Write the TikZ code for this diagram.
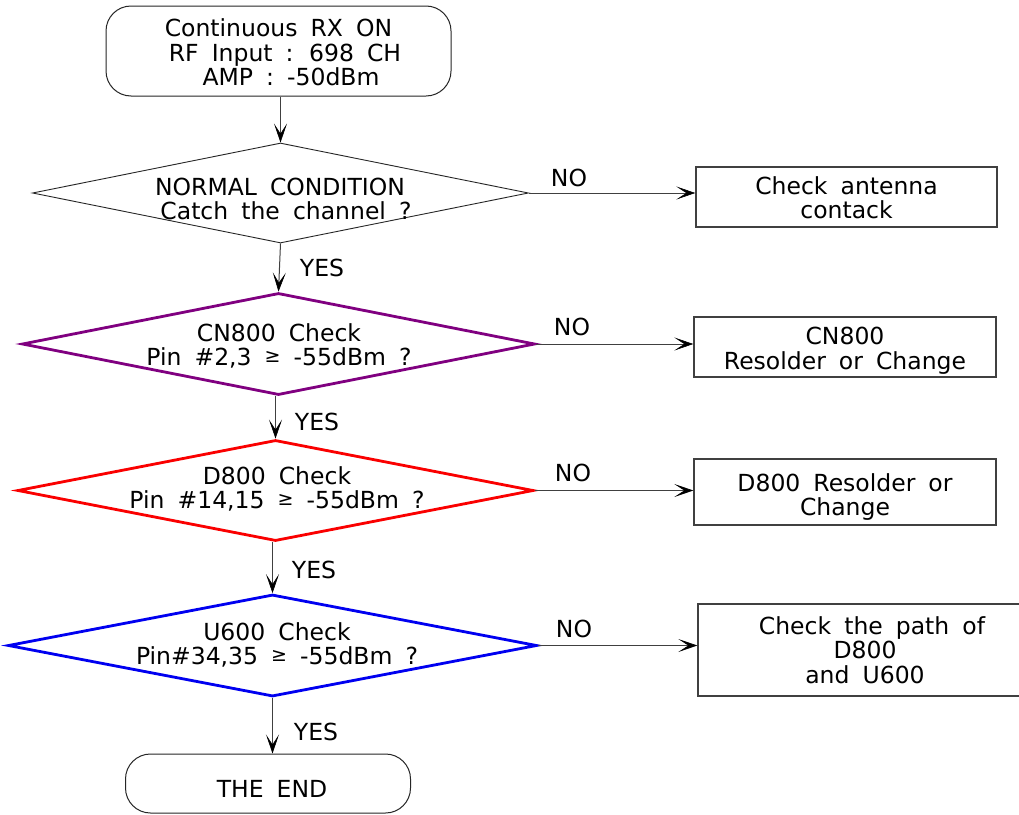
\documentclass[tikz,border=0pt]{standalone}
\usepackage{fontspec}
\setmainfont{DejaVu Sans}[WordSpace=1.75]
\usetikzlibrary{shapes.geometric,arrows.meta}
\newcommand{\gesym}{\raisebox{3.5pt}{\fontsize{19}{19}\selectfont ≥}}
\definecolor{dpurple}{RGB}{128,0,128}
\definecolor{dred}{RGB}{250,0,0}
\definecolor{dblue}{RGB}{0,0,240}
\tikzset{
  every node/.style={font=\fontsize{23.5}{24.5}\selectfont, inner sep=0pt, align=center},
  term/.style={draw=black!85, line width=1pt, rounded corners=25pt, minimum width=#1},
  dia/.style={diamond, draw, inner sep=0pt},
  procbox/.style={draw=black!75, line width=1.4pt},
  conn/.style={draw=black!75, line width=1pt, -{Stealth[length=19pt,width=13pt,inset=10pt,line width=0.6pt,black]}},
  lbl/.style={}
}
\begin{document}
\begin{tikzpicture}[x=1pt,y=-1pt]
\useasboundingbox (0,0) rectangle (1019,814);
\clip (0,0) rectangle (1019,814);
\fill[white] (0,0) rectangle (1019,814);

% start
\node[term=345pt, minimum height=90pt] (start) at (278.5,51) {\rule{0pt}{21pt}Continuous RX ON\\\hspace*{13pt}RF Input : 698 CH\\\hspace*{25pt}AMP : -50dBm};

% diamonds
\node[dia, draw=black!85, line width=0.9pt, minimum width=496pt, minimum height=100pt] (d1) at (280.5,193) {};
\node (d1t) at (280,199) {NORMAL CONDITION\\\hspace*{12pt}Catch the channel ?};

\node[dia, draw=dpurple, line width=2.8pt, minimum width=513pt, minimum height=102pt] (d2) at (278.5,344) {};
\node (d2t) at (279,346) {CN800 Check\\Pin \#2,3 \gesym{} -55dBm ?};

\node[dia, draw=dred, line width=2.8pt, minimum width=516pt, minimum height=101pt] (d3) at (275.5,490.5) {};
\node (d3t) at (277,489) {D800 Check\\Pin \#14,15 \gesym{} -55dBm ?};

\node[dia, draw=dblue, line width=2.8pt, minimum width=529pt, minimum height=102pt] (d4) at (272.5,645.5) {};
\node (d4t) at (277,645) {U600 Check\\Pin\#34,35 \gesym{} -55dBm ?};

% end
\node[term=285pt, minimum height=59pt, text height=28.5pt] (end) at (268,783.5) {\hspace*{8pt}THE END};

% boxes
\node[procbox, minimum width=301pt, minimum height=60pt] (b1) at (846.5,197) {\rule{0pt}{19.5pt}Check antenna\\contack};
\node[procbox, minimum width=302pt, minimum height=60pt] (b2) at (845,347) {\rule{0pt}{25pt}CN800\\Resolder or Change};
\node[procbox, minimum width=302pt, minimum height=66pt] (b3) at (845,492) {\rule{0pt}{28pt}D800 Resolder or\\Change};
\node[procbox, minimum width=334pt, minimum height=92pt] (b4) at (865,650) {\hspace*{14pt}Check the path of\\D800\\and U600};

% vertical connectors
\draw[conn] (d1.north |- start.south) -- (d1.north);
\draw[conn] (d1.south) -- (d2.north);
\draw[conn] (d3.north |- d2.south) -- (d3.north);
\draw[conn] (d4.north |- d3.south) -- (d4.north);
\draw[conn] (d4.south) -- (d4.south |- end.north);

% horizontal connectors
\draw[conn] (d1.east) -- (d1.east -| b1.west);
\draw[conn] (d2.east) -- (d2.east -| b2.west);
\draw[conn] (d3.east) -- (d3.east -| b3.west);
\draw[conn] (d4.east) -- (d4.east -| b4.west);

% labels
\node[lbl] (y1) at (322,268) {YES};
\node[lbl] (y2) at (317,421.5) {YES};
\node[lbl] (y3) at (314,569.5) {YES};
\node[lbl] (y4) at (316,731.5) {YES};
\node[lbl] (n1) at (569,178) {NO};
\node[lbl] (n2) at (572,327) {NO};
\node[lbl] (n3) at (573,472.5) {NO};
\node[lbl] (n4) at (574,629) {NO};
\end{tikzpicture}
\end{document}
